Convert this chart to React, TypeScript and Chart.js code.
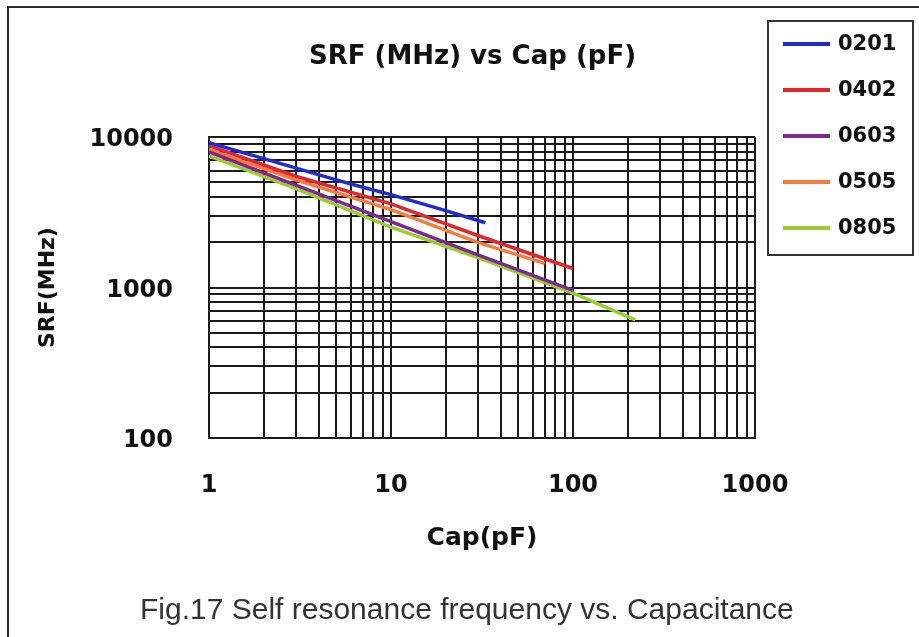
import React, { useEffect, useRef } from "react";
import { Chart, registerables } from "chart.js";

Chart.register(...registerables);

// ---- data ----
const SERIES_NAMES = ["0201", "0402", "0603", "0505", "0805"];
const SERIES_COLORS = ["#1f2bd0", "#e3262b", "#7d2a8c", "#f47c3c", "#9acd32"];

const CAP_0201 = [1, 2, 5, 7, 10, 20, 33];
const SRF_0201 = [9200, 7200, 5200, 4650, 4150, 3250, 2700];

const CAP_0402 = [1, 3, 10, 30, 100];
const SRF_0402 = [8800, 5500, 3600, 2220, 1340];

const CAP_0603 = [1, 3, 10, 30, 100];
const SRF_0603 = [8000, 4800, 2750, 1650, 960];

const CAP_0505 = [1, 3, 10, 30, 70];
const SRF_0505 = [8300, 5200, 3300, 2000, 1450];

const CAP_0805 = [1, 3, 10, 30, 100, 220];
const SRF_0805 = [7500, 4550, 2520, 1580, 920, 610];

const X_GRID = [1, 2, 3, 4, 5, 6, 7, 8, 9, 10, 20, 30, 40, 50, 60, 70, 80, 90, 100, 200, 300, 400, 500, 600, 700, 800, 900, 1000];
const X_LABELS = [1, 10, 100, 1000];
const Y_GRID = [100, 200, 300, 400, 500, 600, 700, 800, 900, 1000, 2000, 3000, 4000, 5000, 6000, 7000, 8000, 9000, 10000];
const Y_LABELS = [100, 1000, 10000];

const CHART_TITLE = "SRF (MHz) vs Cap (pF)";
const X_TITLE = "Cap(pF)";
const Y_TITLE = "SRF(MHz)";
const CAPTION = "Fig.17 Self resonance frequency vs. Capacitance";

const FONT = "'DejaVu Sans', sans-serif";
const INK = "#111";
const GRID_INK = "#1a1a1a";

const boxLegend = {
  id: "boxLegend",
  afterDraw(chart: any, _args: any, opts: any) {
    const { ctx, chartArea } = chart;
    const left = chartArea.right + opts.gap;
    ctx.save();
    ctx.strokeStyle = opts.borderColor;
    ctx.lineWidth = opts.borderWidth;
    ctx.strokeRect(left, opts.top, opts.width, opts.height);
    ctx.font = `bold ${opts.fontSize}px ${FONT}`;
    ctx.textBaseline = "middle";
    ctx.textAlign = "left";
    chart.data.datasets.forEach((ds: any, i: number) => {
      const y = opts.firstRow + i * opts.rowStep;
      ctx.strokeStyle = ds.borderColor;
      ctx.lineWidth = opts.lineWidth;
      ctx.beginPath();
      ctx.moveTo(left + opts.lineStart, y);
      ctx.lineTo(left + opts.lineStart + opts.lineLength, y);
      ctx.stroke();
      ctx.fillStyle = INK;
      ctx.fillText(ds.label, left + opts.textStart, y + 1);
    });
    ctx.restore();
  },
};

function toPoints(xs: number[], ys: number[]) {
  return xs.map((x, i) => ({ x, y: ys[i] }));
}

export default function App() {
  const ref = useRef<HTMLCanvasElement>(null);

  useEffect(() => {
    if (!ref.current) return;
    const caps = [CAP_0201, CAP_0402, CAP_0603, CAP_0505, CAP_0805];
    const srfs = [SRF_0201, SRF_0402, SRF_0603, SRF_0505, SRF_0805];
    const chart = new Chart(ref.current, {
      type: "line",
      data: {
        datasets: SERIES_NAMES.map((name, i) => ({
          label: name,
          data: toPoints(caps[i], srfs[i]),
          borderColor: SERIES_COLORS[i],
          backgroundColor: SERIES_COLORS[i],
          borderWidth: 3.5,
          pointRadius: 0,
          tension: 0,
          fill: false,
        })),
      },
      options: {
        animation: false,
        responsive: false,
        events: [],
        layout: { padding: { left: 30, right: 4, top: 8, bottom: 84 } },
        plugins: {
          legend: { display: false },
          tooltip: { enabled: false },
          title: {
            display: true,
            text: CHART_TITLE,
            color: INK,
            font: { family: FONT, size: 26, weight: "bold" },
            padding: { top: 34, bottom: 64 },
          },
          boxLegend: {
            gap: 13,
            top: 21,
            width: 145,
            height: 234,
            borderColor: "#333",
            borderWidth: 2,
            firstRow: 44,
            rowStep: 46,
            lineStart: 15,
            lineLength: 47,
            lineWidth: 4,
            textStart: 70,
            fontSize: 21,
          },
        } as any,
        scales: {
          x: {
            type: "logarithmic",
            min: 1,
            max: 1000,
            afterBuildTicks: (s: any) => {
              s.ticks = X_GRID.map((v) => ({ value: v }));
            },
            afterFit: (s: any) => {
              s.height = 115;
            },
            ticks: {
              autoSkip: false,
              maxRotation: 0,
              minRotation: 0,
              padding: 33,
              color: INK,
              font: { family: FONT, size: 24, weight: "bold" },
              callback: (v: any) => (X_LABELS.includes(Number(v)) ? String(v) : ""),
            },
            grid: { color: GRID_INK, lineWidth: 2, drawTicks: false },
            border: { color: GRID_INK, width: 2 },
            title: {
              display: true,
              text: X_TITLE,
              color: INK,
              font: { family: FONT, size: 25, weight: "bold" },
              padding: { top: 0, bottom: 0 },
            },
          },
          y: {
            type: "logarithmic",
            min: 100,
            max: 10000,
            afterBuildTicks: (s: any) => {
              s.ticks = Y_GRID.map((v) => ({ value: v }));
            },
            afterFit: (s: any) => {
              s.width = 179;
            },
            ticks: {
              autoSkip: false,
              padding: 36,
              labelOffset: 3,
              color: INK,
              font: { family: FONT, size: 24, weight: "bold" },
              callback: (v: any) => (Y_LABELS.includes(Number(v)) ? String(v) : ""),
            },
            grid: { color: GRID_INK, lineWidth: 2, drawTicks: false },
            border: { color: GRID_INK, width: 2 },
            title: {
              display: true,
              text: Y_TITLE,
              color: INK,
              font: { family: FONT, size: 22, weight: "bold" },
              padding: { top: 5, bottom: 0 },
            },
          },
          yLegend: {
            axis: "y",
            type: "linear",
            position: "right",
            display: true,
            grid: { display: false },
            ticks: { display: false },
            border: { display: false },
            afterFit: (s: any) => {
              s.width = 160;
            },
          },
        } as any,
      },
      plugins: [boxLegend],
    });
    return () => chart.destroy();
  }, []);

  return (
    <div
      style={{
        position: "fixed",
        left: 0,
        top: 0,
        width: 919,
        height: 637,
        background: "#fff",
        overflow: "hidden",
      }}
    >
      <div
        style={{
          position: "absolute",
          left: 7,
          top: 6,
          width: 1000,
          height: 700,
          border: "2px solid #2a2a2a",
          boxSizing: "border-box",
        }}
      />
      <canvas
        ref={ref}
        width={919}
        height={637}
        style={{ position: "absolute", left: 0, top: 0, width: 919, height: 637 }}
      />
      <div
        style={{
          position: "absolute",
          left: 140,
          top: 592,
          whiteSpace: "nowrap",
          fontFamily: "'Liberation Sans', Arial, sans-serif",
          fontSize: 30,
          lineHeight: "34px",
          color: "#333",
        }}
      >
        {CAPTION}
      </div>
    </div>
  );
}
